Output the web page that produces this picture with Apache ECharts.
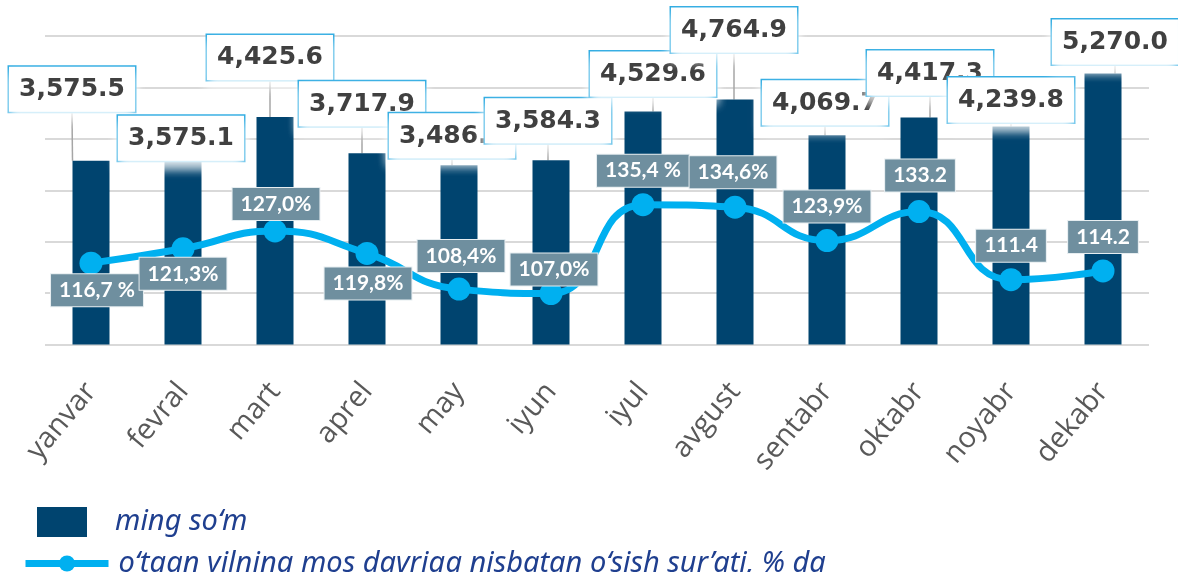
<!DOCTYPE html>
<html>
<head>
<meta charset="utf-8">
<script src="https://cdn.jsdelivr.net/npm/echarts@6/dist/echarts.min.js"></script>
<style>
  html, body { margin: 0; padding: 0; background: #fff; }
  #chart { width: 1178px; height: 572px; }
</style>
</head>
<body>
<div id="chart"></div>
<script>
const months = ['yanvar', 'fevral', 'mart', 'aprel', 'may', 'iyun', 'iyul', 'avgust', 'sentabr', 'oktabr', 'noyabr', 'dekabr'];
const wageValues = [3575.5, 3575.1, 4425.6, 3717.9, 3486.4, 3584.3, 4529.6, 4764.9, 4069.7, 4417.3, 4239.8, 5270.0];
const growthValues = [116.7, 121.3, 127.0, 119.8, 108.4, 107.0, 135.4, 134.6, 123.9, 133.2, 111.4, 114.2];
const growthLabels = ['116,7 %', '121,3%', '127,0%', '119,8%', '108,4%', '107,0%', '135,4 %', '134,6%', '123,9%', '133.2', '111.4', '114.2'];
const barName = 'ming so‘m';
const lineName = 'o‘tgan yilning mos davriga nisbatan o‘sish sur’ati, % da';

// label shifts in px, the original has hand-placed labels
const barLabelShift = [[-19, -44], [-2, 5], [-5, -32], [-5, -22], [-7, -2], [-3, -12], [10, -10], [-1, -42], [-2, -5], [11, -17], [0, 1], [12, -4]];
const lineLabelShift = [[6, 27], [0, 25], [1, -27], [1, 30], [2, -33], [3, -24], [0, -34], [-2, -35], [0, -34], [1, -36], [0, -34], [0, -34]];

const chartDom = document.getElementById('chart');
const myChart = echarts.init(chartDom, null, { renderer: 'canvas' });

const legendText = {
    fontFamily: 'Noto Sans',
    fontStyle: 'italic',
    fontSize: 29,
    color: '#1f3f8f',
};

const option = {
    animation: false,
    grid: { left: 45, right: 29, top: 36, height: 308.5 },
    legend: [
        {
            data: [{ name: barName, icon: 'rect' }],
            left: 37,
            top: 507,
            padding: 0,
            itemWidth: 50,
            itemHeight: 30,
            textStyle: { ...legendText, padding: [0, 0, 0, 23] },
        },
        {
            data: [lineName],
            left: 22,
            top: 549,
            padding: 0,
            itemWidth: 83,
            itemHeight: 20,
            lineStyle: { width: 7 },
            textStyle: { ...legendText, padding: [0, 0, 0, 5] },
        },
    ],
    xAxis: {
        type: 'category',
        data: months,
        axisLine: { show: false },
        axisTick: { show: false },
        axisLabel: {
            rotate: 50,
            margin: 42,
            fontFamily: 'Open Sans',
            fontSize: 29,
            color: '#595959',
        },
    },
    yAxis: [
        {
            type: 'value',
            min: 0,
            max: 6000,
            interval: 1000,
            axisLabel: { show: false },
            axisLine: { show: false },
            axisTick: { show: false },
            splitLine: { lineStyle: { color: '#d9d9d9', width: 2 } },
        },
        {
            type: 'value',
            min: 90.7,
            max: 189.3,
            show: false,
            splitLine: { show: false },
        },
    ],
    series: [
        {
            name: barName,
            type: 'bar',
            yAxisIndex: 0,
            barWidth: 37,
            itemStyle: { color: '#00446f' },
            data: wageValues,
            label: {
                show: true,
                position: 'top',
                distance: 5,
                formatter: (p) => p.value.toLocaleString('en-US', { minimumFractionDigits: 1, maximumFractionDigits: 1 }),
                fontFamily: 'DejaVu Sans',
                fontWeight: 'bold',
                fontSize: 25,
                lineHeight: 28,
                color: '#404040',
                backgroundColor: '#fff',
                borderColor: '#29a9e1',
                borderWidth: 1.5,
                padding: [9, 10, 8, 10],
                shadowColor: 'rgba(255,255,255,0.95)',
                shadowBlur: 10,
                shadowOffsetY: 6,
            },
            labelLine: { show: true, lineStyle: { color: '#a6a6a6', width: 1.5 } },
            labelLayout: (p) => ({ dx: barLabelShift[p.dataIndex][0], dy: barLabelShift[p.dataIndex][1] }),
        },
        {
            name: lineName,
            type: 'line',
            yAxisIndex: 1,
            smooth: 0.5,
            symbol: 'circle',
            symbolSize: 23,
            z: 3,
            lineStyle: { color: '#00b0f0', width: 7 },
            itemStyle: { color: '#00b0f0' },
            data: growthValues,
            label: {
                show: true,
                position: 'inside',
                formatter: (p) => growthLabels[p.dataIndex],
                fontFamily: 'Lato',
                fontWeight: 'bold',
                fontSize: 21,
                lineHeight: 22,
                color: '#fff',
                backgroundColor: '#6f8f9f',
                borderColor: '#e6edf0',
                borderWidth: 1,
                padding: [5, 8, 5, 8],
            },
            labelLayout: (p) => ({ dx: lineLabelShift[p.dataIndex][0], dy: lineLabelShift[p.dataIndex][1] }),
        },
    ],
};
myChart.setOption(option);
</script>
</body>
</html>
